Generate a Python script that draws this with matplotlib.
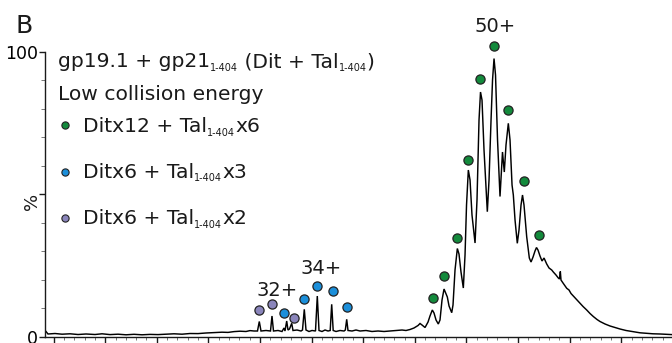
import matplotlib
matplotlib.use("Agg")
import matplotlib.pyplot as plt
from matplotlib.ticker import MultipleLocator, FixedLocator, NullFormatter
from matplotlib.font_manager import FontProperties

# ---------------- data ----------------
mz = [4852, 4891, 5027, 5163, 5318, 5473, 5628, 5802, 5938, 6093,
      6248, 6403, 6558, 6713, 6868, 7023, 7178, 7333, 7488, 7643,
      7798, 7953, 8108, 8263, 8380, 8496, 8612, 8728, 8806, 8884,
      8951, 8986, 9019, 9116, 9203, 9232, 9261, 9349, 9426, 9465,
      9484, 9517, 9542, 9571, 9614, 9639, 9717, 9794, 9823, 9858,
      9891, 9949, 10008, 10075, 10110, 10143, 10201, 10260, 10318, 10360,
      10389, 10418, 10473, 10550, 10628, 10653, 10680, 10705, 10783, 10860,
      10938, 11054, 11170, 11287, 11403, 11519, 11636, 11752, 11829, 11907,
      11984, 12062, 12101, 12139, 12198, 12256, 12294, 12339, 12372, 12411,
      12455, 12488, 12527, 12566, 12605, 12630, 12663, 12715, 12740, 12779,
      12824, 12856, 12895, 12940, 12973, 13002, 13037, 13070, 13108, 13167,
      13205, 13244, 13273, 13302, 13341, 13405, 13438, 13477, 13506, 13535,
      13564, 13603, 13651, 13699, 13734, 13767, 13812, 13845, 13884, 13909,
      13942, 13986, 14019, 14058, 14087, 14116, 14168, 14219, 14252, 14291,
      14329, 14358, 14387, 14426, 14465, 14504, 14556, 14601, 14653, 14684,
      14736, 14781, 14804, 14820, 14833, 14872, 14944, 14988, 15027, 15072,
      15124, 15201, 15260, 15331, 15395, 15459, 15531, 15589, 15686, 15783,
      15880, 15977, 16093, 16234, 16364, 16494, 16616, 16752, 16868, 16984]
intensity = [1.83, 0.95, 1.12, 0.88, 1.02, 0.77, 0.95, 0.77, 1.02, 0.74,
             0.88, 0.67, 0.84, 0.67, 0.81, 0.74, 0.88, 1.02, 0.88, 1.12,
             1.09, 1.30, 1.44, 1.58, 1.51, 1.79, 1.93, 1.83, 2.14, 2.00,
             2.00, 5.34, 2.00, 2.18, 2.00, 7.27, 2.00, 2.18, 1.83, 3.06,
             2.00, 5.51, 2.35, 2.70, 4.71, 2.18, 2.35, 2.00, 2.35, 9.62,
             2.35, 1.83, 2.18, 2.00, 14.29, 2.18, 1.83, 2.35, 2.00, 2.18,
             11.38, 2.18, 1.83, 2.18, 2.00, 2.35, 6.11, 2.18, 2.00, 2.35,
             2.00, 2.18, 1.83, 2.00, 1.83, 2.00, 2.18, 2.35, 2.18, 2.53,
             3.06, 3.93, 4.64, 4.11, 3.23, 5.16, 7.27, 9.38, 8.32, 5.87,
             4.46, 5.87, 12.89, 16.75, 15.00, 13.94, 10.78, 8.43, 11.13, 23.43,
             30.98, 29.04, 22.72, 17.10, 28.69, 46.25, 58.54, 55.03, 42.74, 32.91,
             48.01, 76.10, 85.94, 83.13, 65.57, 43.90, 55.03, 76.10, 90.15, 97.70,
             91.91, 69.08, 49.24, 64.87, 57.84, 67.32, 74.95, 69.08, 53.28, 49.77,
             40.99, 32.80, 37.47, 46.25, 49.77, 46.25, 35.12, 27.64, 26.23, 27.99,
             30.10, 31.33, 30.45, 28.34, 26.59, 27.64, 25.53, 24.13, 23.43, 22.72,
             21.67, 20.62, 20.26, 22.90, 19.91, 18.86, 17.00, 16.40, 15.17, 14.29,
             13.24, 11.73, 10.61, 9.38, 8.15, 7.09, 6.04, 5.34, 4.46, 3.76,
             3.23, 2.70, 2.18, 1.76, 1.37, 1.19, 1.02, 0.95, 0.84, 0.74]

green_mz = [12347, 12572, 12812, 13025, 13263, 13529, 13806, 14110, 14401]
green_y = [13.7, 21.3, 34.7, 62.0, 90.4, 102.1, 79.5, 54.7, 35.7]
blue_mz = [9471, 9858, 10099, 10409, 10680]
blue_y = [8.2, 13.2, 17.8, 15.9, 10.3]
purple_mz = [8986, 9226, 9653]
purple_y = [9.4, 11.4, 6.7]

charge_labels = ["32+", "34+", "50+"]
charge_mz = [9323, 10176, 13554]
charge_y = [16.4, 24.0, 108.9]

legend_labels = [("Ditx12 + Tal", "1-404", "x6"),
                 ("Ditx6 + Tal", "1-404", "x3"),
                 ("Ditx6 + Tal", "1-404", "x2")]

GREEN = "#138a3c"
BLUE = "#1b8fda"
PURPLE = "#8a85bb"
EDGE = "#222222"

# ---------------- figure ----------------
W, H = 672, 343
plt.rcParams["font.family"] = ["DejaVu Sans"]
fig = plt.figure(figsize=(W / 100, H / 100), dpi=100)
ax = fig.add_axes([45 / W, (H - 336.7) / H, 627 / W, 284.7 / H])

ax.plot(mz, intensity, color="black", lw=1.05, solid_joinstyle="miter")
ax.set_xlim(4833, 16984)
ax.set_ylim(0, 100)

for s in ["top", "right"]:
    ax.spines[s].set_visible(False)
for s in ["left", "bottom"]:
    ax.spines[s].set_linewidth(1.0)
    ax.spines[s].set_color("#1a1a1a")

ax.xaxis.set_major_locator(MultipleLocator(1000))
ax.xaxis.set_minor_locator(MultipleLocator(200))
ax.xaxis.set_major_formatter(NullFormatter())
ax.tick_params(axis="x", which="major", length=4.5, width=1.0, color="#1a1a1a")
ax.tick_params(axis="x", which="minor", length=2.2, width=0.7, color="#777777")

ax.yaxis.set_major_locator(FixedLocator([0, 50, 100]))
ax.set_yticklabels(["0", "", "100"])
ax.yaxis.set_minor_locator(FixedLocator([10, 20, 30, 40, 60, 70, 80, 90]))
ax.tick_params(axis="y", which="major", length=4.5, width=1.0, color="#1a1a1a",
               labelsize=12.5, pad=0.8)
ax.tick_params(axis="y", which="minor", length=2.8, width=0.7, color="#777777")

mk = dict(ls="none", marker="o", ms=6.6, mec=EDGE, mew=0.9, clip_on=False, zorder=5)
ax.plot(green_mz, green_y, mfc=GREEN, **mk)
ax.plot(blue_mz, blue_y, mfc=BLUE, **mk)
ax.plot(purple_mz, purple_y, mfc=PURPLE, **mk)

for lab, x, y in zip(charge_labels, charge_mz, charge_y):
    ax.text(x, y, lab, ha="center", va="center", fontsize=14, color="#1a1a1a",
            clip_on=False)

# ---------------- texts with subscripts ----------------
fig.canvas.draw()
renderer = fig.canvas.get_renderer()


def adv(s, size):
    fp = FontProperties(family="DejaVu Sans", size=size)
    w1 = renderer.get_text_width_height_descent("|" + s + "|", fp, False)[0]
    w0 = renderer.get_text_width_height_descent("||", fp, False)[0]
    return w1 - w0


def rich(x_px, base_px, parts, size=14.6, sub_size=6.9, drop=3.6):
    x = x_px
    for s, sub in parts:
        fs = sub_size if sub else size
        y = base_px + (drop if sub else 0)
        fig.text(x / W, 1 - y / H, s, fontsize=fs, ha="left", va="baseline",
                 color="#1a1a1a")
        x += adv(s, fs)


fig.text(15 / W, 1 - 33 / H, "B", fontsize=18, ha="left", va="baseline",
         color="#1a1a1a")

rich(58, 67, [("gp19.1 + gp21", False), ("1-404", True), (" (Dit + Tal", False),
              ("1-404", True), (")", False)])
rich(58, 100, [("Low collision energy", False)])

leg_base = [132, 177.5, 224]
leg_mark = [125, 171.5, 218.3]
leg_cols = [GREEN, BLUE, PURPLE]
for (a, b, c), yb, ym, col in zip(legend_labels, leg_base, leg_mark, leg_cols):
    rich(83, yb, [(a, False), (b, True), (c, False)])
    ax.plot([65 / W], [1 - ym / H], transform=fig.transFigure, ls="none",
            marker="o", ms=5.2, mfc=col, mec=EDGE, mew=0.8, clip_on=False)

fig.text(31.5 / W, 1 - 201 / H, "%", fontsize=13, rotation=90, ha="center",
         va="center", color="#1a1a1a")

fig.savefig("out.png", dpi=100)
